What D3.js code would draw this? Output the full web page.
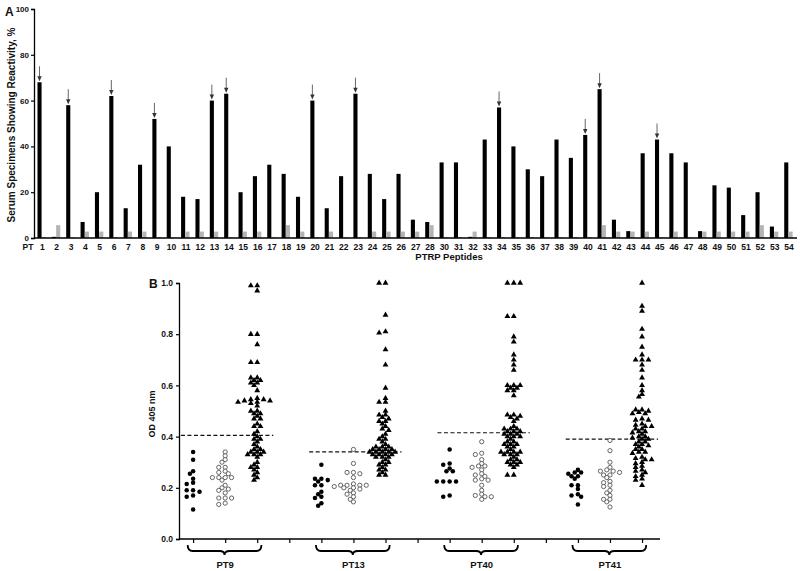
<!DOCTYPE html>
<html>
<head>
<meta charset="utf-8">
<script src="https://cdn.jsdelivr.net/npm/d3@7"></script>
<style>
  html, body { margin: 0; padding: 0; background: #fff; }
  svg { display: block; }
  text { font-family: "Liberation Sans", Arial, sans-serif; font-weight: bold; fill: #111; }
</style>
</head>
<body>
<svg id="chart" width="800" height="571"></svg>
<script>
// ---------- Panel A data ----------
const categories = ["1","2","3","4","5","6","7","8","9","10","11","12","13","14","15","16","17","18","19","20",
  "21","22","23","24","25","26","27","28","30","31","32","33","34","35","36","37","38","39","40",
  "41","42","43","44","45","46","47","48","49","50","51","52","53","54"];
const patientReactivity = [68,0.5,58,7,20,62,13,32,52,40,18,17,60,63,20,27,32,28,18,60,
  13,27,63,28,17,28,8,7,33,33,0.5,43,57,40,30,27,43,35,45,
  65,8,3,37,43,37,33,3,23,22,10,20,5,33];
const controlReactivity = [0.4,5.6,0.4,2.8,2.8,0.4,2.8,2.8,0.4,0.4,2.8,2.8,2.8,0.4,2.8,2.8,0.4,5.6,2.8,0.4,
  2.8,0.4,0.4,2.8,2.8,2.8,2.8,5.6,0.4,0.4,2.8,0.4,0.4,0.4,0.4,0.4,0.4,0.4,0.4,
  5.6,2.8,2.8,2.8,0.4,2.8,0.4,2.8,2.8,2.8,2.8,5.6,2.8,2.8];
const arrowPeptides = ["1","3","6","9","13","14","20","23","34","40","41","45"];
const yTicksA = [0,20,40,60,80,100];

// ---------- Panel B data ----------
const groupNames = ["PT9","PT13","PT40","PT41"];
const cutoffs = [0.405,0.34,0.415,0.39];
const pt9Filled = [0.34,0.31,0.265,0.255,0.235,0.22,0.215,0.19,0.19,0.185,0.17,0.165,0.115];
const pt9Open = [0.34,0.325,0.31,0.30,0.28,0.28,0.265,0.26,0.255,0.24,0.24,0.24,0.24,0.23,0.21,0.20,0.195,0.19,0.18,0.16,0.16,0.16,0.14,0.135];
const pt9Tri = [0.99,0.99,0.97,0.80,0.80,0.76,0.69,0.69,0.63,0.63,0.62,0.62,0.61,0.61,0.60,0.58,0.55,0.545,0.545,0.54,0.54,0.535,0.535,0.53,0.52,0.50,0.50,0.49,0.49,0.48,0.47,0.47,0.45,0.44,0.44,0.42,0.41,0.40,0.39,0.39,0.38,0.37,0.36,0.35,0.35,0.34,0.34,0.34,0.33,0.33,0.33,0.32,0.30,0.29,0.28,0.28,0.27,0.26,0.25,0.24,0.23];
const pt13Filled = [0.29,0.235,0.235,0.23,0.225,0.21,0.21,0.185,0.175,0.165,0.16,0.14,0.13];
const pt13Open = [0.35,0.295,0.26,0.26,0.255,0.24,0.215,0.21,0.21,0.21,0.21,0.205,0.20,0.20,0.195,0.19,0.18,0.175,0.165,0.155,0.145];
const pt13Tri = [1.0,1.0,0.875,0.81,0.805,0.74,0.68,0.59,0.55,0.535,0.535,0.50,0.485,0.485,0.475,0.47,0.46,0.46,0.45,0.44,0.43,0.425,0.41,0.40,0.39,0.39,0.38,0.37,0.36,0.36,0.36,0.35,0.35,0.35,0.35,0.34,0.34,0.34,0.34,0.34,0.33,0.33,0.33,0.33,0.32,0.32,0.32,0.31,0.30,0.30,0.29,0.29,0.28,0.27,0.27,0.26,0.25,0.25];
const pt40Filled = [0.35,0.295,0.29,0.275,0.265,0.265,0.225,0.225,0.225,0.225,0.17,0.165];
const pt40Open = [0.38,0.335,0.33,0.31,0.295,0.285,0.285,0.28,0.27,0.255,0.25,0.245,0.235,0.23,0.23,0.21,0.19,0.175,0.17,0.165,0.165,0.155];
const pt40Tri = [1.0,1.0,1.0,0.87,0.87,0.79,0.77,0.72,0.70,0.68,0.66,0.60,0.60,0.60,0.59,0.59,0.58,0.58,0.56,0.485,0.485,0.48,0.475,0.47,0.46,0.44,0.43,0.43,0.43,0.42,0.42,0.42,0.41,0.41,0.41,0.40,0.40,0.40,0.39,0.38,0.38,0.37,0.37,0.37,0.36,0.36,0.35,0.34,0.34,0.34,0.34,0.33,0.33,0.33,0.32,0.31,0.31,0.30,0.30,0.30,0.29,0.29,0.28,0.25,0.25];
const pt41Filled = [0.27,0.26,0.26,0.255,0.245,0.245,0.235,0.21,0.21,0.195,0.175,0.17,0.165,0.135];
const pt41Open = [0.385,0.345,0.30,0.28,0.27,0.265,0.265,0.26,0.25,0.25,0.24,0.225,0.22,0.21,0.205,0.19,0.18,0.17,0.155,0.155,0.145,0.125];
const pt41Tri = [1.0,0.91,0.89,0.82,0.79,0.75,0.72,0.70,0.70,0.70,0.68,0.66,0.63,0.60,0.58,0.565,0.555,0.505,0.505,0.50,0.495,0.49,0.49,0.47,0.465,0.465,0.45,0.445,0.44,0.44,0.43,0.43,0.42,0.42,0.415,0.41,0.40,0.40,0.395,0.39,0.39,0.38,0.38,0.37,0.37,0.365,0.36,0.35,0.35,0.34,0.34,0.335,0.32,0.315,0.31,0.31,0.30,0.295,0.285,0.28,0.27,0.265,0.26,0.25,0.245,0.235,0.23,0.21];
const yTicksB = [0,0.2,0.4,0.6,0.8,1.0];

const groupData = [
  [pt9Filled, pt9Open, pt9Tri],
  [pt13Filled, pt13Open, pt13Tri],
  [pt40Filled, pt40Open, pt40Tri],
  [pt41Filled, pt41Open, pt41Tri]
];

// ---------- Drawing ----------
const svg = d3.select("#chart");
svg.append("rect").attr("width",800).attr("height",571).attr("fill","#fff");

// ===== Panel A =====
const gA = svg.append("g");
const xA = d3.scalePoint().domain(categories).range([35.1, 796.2]).padding(0.5);
const seriesBand = d3.scaleBand().domain(["pat","ctl"]).range([-4.8, 3.6]).paddingInner(0.05);
const yA = d3.scaleLinear().domain([0,100]).range([238, 9]);

gA.selectAll("rect.pat").data(categories).enter().append("rect")
  .attr("class","pat")
  .attr("x", d => xA(d) + seriesBand("pat"))
  .attr("width", seriesBand.bandwidth())
  .attr("y", (d,i) => yA(patientReactivity[i]))
  .attr("height", (d,i) => yA(0) - yA(patientReactivity[i]))
  .attr("fill", "#000");
gA.selectAll("rect.ctl").data(categories).enter().append("rect")
  .attr("class","ctl")
  .attr("x", d => xA(d) + seriesBand("ctl"))
  .attr("width", seriesBand.bandwidth())
  .attr("y", (d,i) => yA(controlReactivity[i]))
  .attr("height", (d,i) => yA(0) - yA(controlReactivity[i]))
  .attr("fill", "#b4b4b4");

arrowPeptides.forEach(p => {
  const i = categories.indexOf(p);
  const cx = xA(p) + seriesBand("pat") + seriesBand.bandwidth()/2;
  const top = yA(patientReactivity[i]);
  gA.append("line").attr("x1",cx).attr("x2",cx).attr("y1",top-16).attr("y2",top-5)
    .attr("stroke","#666").attr("stroke-width",1);
  gA.append("path").attr("d",`M${cx-2.2},${top-6} L${cx+2.2},${top-6} L${cx},${top-1} Z`).attr("fill","#333");
});

const axA = d3.axisLeft(yA).tickValues(yTicksA).tickSize(3).tickPadding(2);
const gyA = gA.append("g").attr("transform","translate(34,0)").call(axA);
gyA.select(".domain").attr("stroke","#000").attr("stroke-width",1.3);
gyA.selectAll(".tick line").attr("stroke","#000").attr("stroke-width",1.2);
gyA.selectAll("text").style("font-size","8px").style("font-family","Liberation Sans, Arial").style("font-weight","bold").attr("fill","#222");

gA.append("line").attr("x1",34).attr("x2",797).attr("y1",238).attr("y2",238).attr("stroke","#000").attr("stroke-width",1.3);
gA.selectAll("text.cat").data(categories).enter().append("text")
  .attr("class","cat")
  .attr("x", d => xA(d))
  .attr("y", 250)
  .attr("text-anchor","middle")
  .style("font-size","8.5px")
  .text(d => d);
gA.append("text").attr("x",28).attr("y",250).attr("text-anchor","middle").style("font-size","8.5px").text("PT");
gA.append("text").attr("x",449).attr("y",260).attr("text-anchor","middle").style("font-size","9.5px").text("PTRP Peptides");
gA.append("text").attr("transform","translate(15,125) rotate(-90)").attr("text-anchor","middle").style("font-size","10px")
  .text("Serum Specimens Showing Reactivity, %");
gA.append("text").attr("x",5).attr("y",16).style("font-size","12px").text("A");

// ===== Panel B =====
const gB = svg.append("g");
const xB = d3.scaleLinear().domain([-0.44, 14.56]).range([179, 660]);
const yB = d3.scaleLinear().domain([0,1]).range([539, 283]);

const axB = d3.axisLeft(yB).tickValues(yTicksB).tickFormat(d3.format(".1f")).tickSize(3).tickPadding(3);
const gyB = gB.append("g").attr("transform","translate(179,0)").call(axB);
gyB.select(".domain").attr("stroke","#000").attr("stroke-width",1.3);
gyB.selectAll(".tick line").attr("stroke","#000").attr("stroke-width",1.2);
gyB.selectAll("text").style("font-size","8.5px").style("font-family","Liberation Sans, Arial").style("font-weight","bold").attr("fill","#222");

const axXB = d3.axisBottom(xB).tickValues(d3.range(15)).tickSize(4).tickFormat("");
const gxB = gB.append("g").attr("transform","translate(0,539)").call(axXB);
gxB.select(".domain").attr("stroke","#000").attr("stroke-width",1.3).attr("d","M179,0H660");
gxB.selectAll(".tick line").attr("stroke","#000").attr("stroke-width",1.2);

gB.append("text").attr("transform","translate(155,414) rotate(-90)").attr("text-anchor","middle").style("font-size","9px").text("OD 405 nm");
gB.append("text").attr("x",149).attr("y",288).style("font-size","12px").text("B");

function bracePath(x0, x1, yTop) {
  const xm = (x0 + x1) / 2, r = 5, y1 = yTop + 6, y2 = yTop + 10;
  return `M${x0},${yTop} Q${x0},${y1} ${x0+r},${y1} L${xm-r},${y1} Q${xm},${y1} ${xm},${y2} Q${xm},${y1} ${xm+r},${y1} L${x1-r},${y1} Q${x1},${y1} ${x1},${yTop}`;
}
groupNames.forEach((g, gi) => {
  const base = gi * 4;
  gB.append("path").attr("d", bracePath(xB(base - 0.17), xB(base + 2.13), 545))
    .attr("fill","none").attr("stroke","#000").attr("stroke-width",1.8);
  gB.append("text").attr("x", xB(base + 1)).attr("y", 568).attr("text-anchor","middle").style("font-size","9.5px").text(g);
  gB.append("line").attr("x1", xB(base - 0.38)).attr("x2", xB(base + 2.5))
    .attr("y1", yB(cutoffs[gi])).attr("y2", yB(cutoffs[gi]))
    .attr("stroke","#111").attr("stroke-width",1.2).attr("stroke-dasharray","4,2.5");
});

// beeswarm layout
function swarm(values, step, minDist) {
  const pts = values.map(v => ({ v, y: yB(v) })).sort((a, b) => a.y - b.y);
  const placed = [];
  for (const p of pts) {
    for (let k = 0; k < 60; k++) {
      const off = k === 0 ? 0 : (k % 2 ? -1 : 1) * Math.ceil(k / 2) * step;
      let ok = true;
      for (const q of placed) {
        const dx = off - q.off, dy = p.y - q.y;
        if (dx * dx + dy * dy < minDist * minDist) { ok = false; break; }
      }
      if (ok) { p.off = off; placed.push(p); break; }
    }
  }
  return placed;
}

const triSym = d3.symbol().type(d3.symbolTriangle).size(15);
const circSym = d3.symbol().type(d3.symbolCircle).size(16);
const openSym = d3.symbol().type(d3.symbolCircle).size(14);

groupData.forEach((series, gi) => {
  series.forEach((vals, si) => {
    const cx = xB(gi * 4 + si);
    const pts = swarm(vals, 3.2, 3.8);
    const sym = si === 0 ? circSym : si === 1 ? openSym : triSym;
    gB.selectAll(null).data(pts).enter().append("path")
      .attr("d", sym)
      .attr("transform", d => `translate(${cx + d.off},${d.y})`)
      .attr("fill", si === 1 ? "#fff" : "#000")
      .attr("stroke", si === 1 ? "#555" : "none")
      .attr("stroke-width", si === 1 ? 0.9 : 0);
  });
});
</script>
</body>
</html>
